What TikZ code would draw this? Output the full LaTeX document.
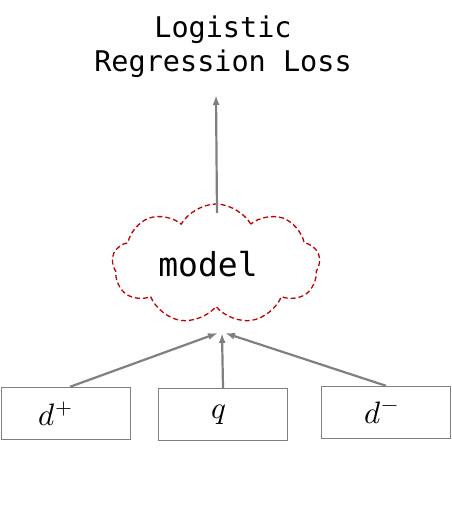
\documentclass[tikz,border=0pt]{standalone}
\usepackage{unicode-math}
\setmathfont{Latin Modern Math}
\setmonofont{DejaVu Sans Mono}
\usetikzlibrary{positioning,arrows.meta,shapes.symbols}
\definecolor{edgegray}{HTML}{808080}
\definecolor{cloudred}{HTML}{C00000}

\begin{document}
\begin{tikzpicture}[
      x=1pt, y=-1pt,
      box/.style={draw=edgegray,line width=1.4pt,minimum width=129pt,minimum height=52pt,inner sep=0pt},
      lbl/.style={font=\fontsize{28.5}{34}\selectfont\ttfamily,align=center},
      modelcloud/.style={cloud,cloud puffs=9,cloud puff arc=120,cloud ignores aspect,draw=cloudred,line width=1.3pt,dash pattern=on 5pt off 3pt,
        minimum width=208pt,minimum height=120pt,font=\fontsize{33}{36}\selectfont\ttfamily},
      arr/.style={-{Latex[length=10pt,width=7pt]},line width=2.2pt,draw=edgegray},
      mathlbl/.style={font=\fontsize{31}{36}\selectfont}
    ]
    \useasboundingbox (0,0) rectangle (452,506);
    \node[lbl] (loss) at (223,47) {Logistic\\Regression Loss};
    \node[modelcloud] (model) at (216,264) {\hspace*{-16pt}model};
    \node[box,mathlbl] (dpos) at (66,413.5) {\hspace*{-20pt}$d^+$};
    \node[box,mathlbl] (query) at (223,414.5) {\hspace*{-8pt}$q$};
    \node[box,mathlbl] (dneg) at (386,412.5) {\hspace*{-8pt}$d^-$};

    \coordinate (mtop) at (217,213);
    \coordinate (tipl) at (218,333);
    \coordinate (tipm) at (222,333);
    \coordinate (tipr) at (225,333);
    \coordinate (top) at (216,95);

    \draw[arr] ([xshift=4pt]dpos.north) -- (tipl);
    \draw[arr] (query.north) -- (tipm);
    \draw[arr] (dneg.north) -- (tipr);
    \draw[arr] (mtop) -- (top);
  \end{tikzpicture}
\end{document}
